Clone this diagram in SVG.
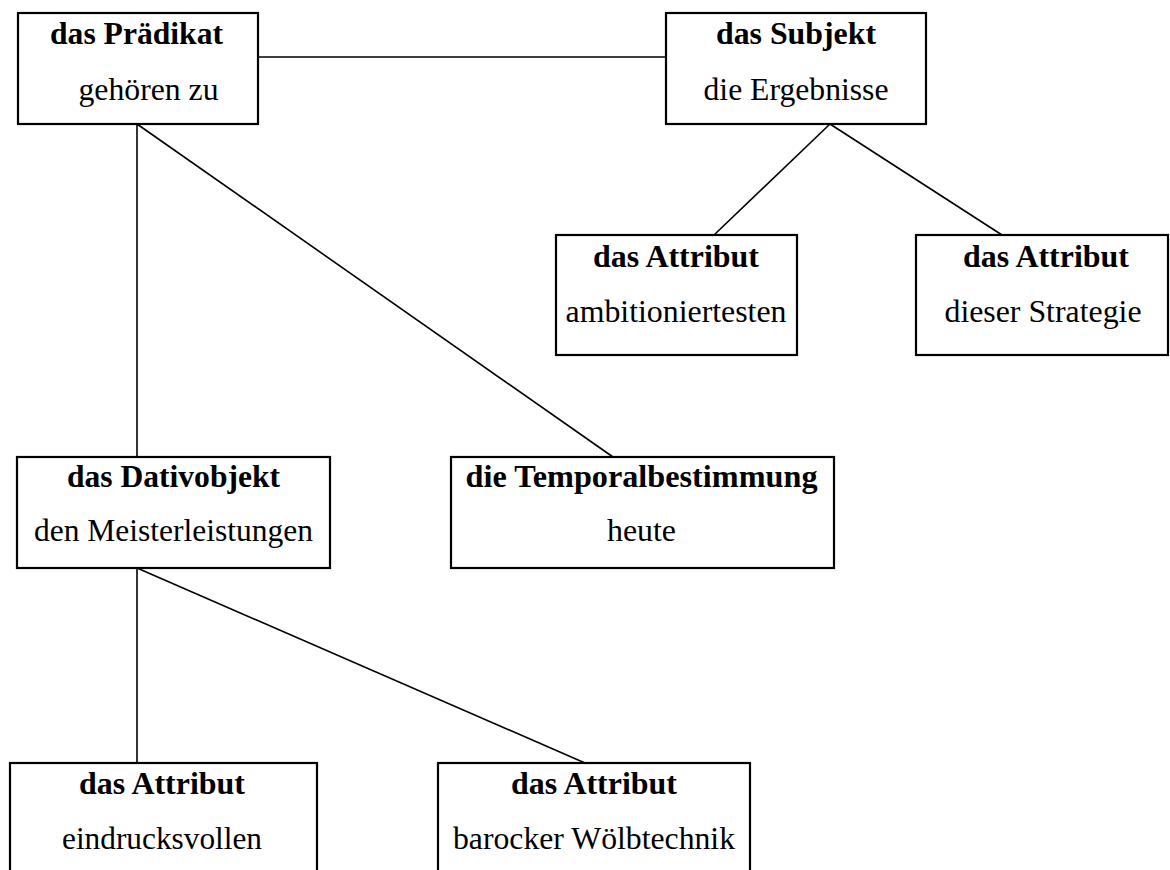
<svg xmlns="http://www.w3.org/2000/svg" width="1170" height="870" viewBox="0 0 1170 870">
<style>
.box{fill:#fff;stroke:#000;stroke-width:2.2}
.ln{stroke:#000;stroke-width:1.6;fill:none}
text{font-family:"Liberation Serif","Times New Roman",serif;font-size:32px;fill:#000;text-anchor:middle}
.b{font-weight:bold}
</style>
<rect width="1170" height="870" fill="#fff"/>
<g id="connectors">
<line class="ln" x1="258" y1="57" x2="666" y2="57"/>
<line class="ln" x1="830" y1="124" x2="714" y2="235"/>
<line class="ln" x1="830" y1="124" x2="1002" y2="235"/>
<line class="ln" x1="137" y1="124" x2="137" y2="457"/>
<line class="ln" x1="137" y1="124" x2="613" y2="457"/>
<line class="ln" x1="137" y1="568" x2="137" y2="763"/>
<line class="ln" x1="137" y1="568" x2="585" y2="763"/>
</g>
<g id="praedikat">
<rect class="box" x="18" y="13" width="240" height="111"/>
<text class="b" x="136.5" y="44" textLength="173" lengthAdjust="spacingAndGlyphs">das Prädikat</text>
<text x="148.5" y="100" textLength="140" lengthAdjust="spacingAndGlyphs">gehören zu</text>
</g>
<g id="subjekt">
<rect class="box" x="666" y="13" width="260" height="111"/>
<text class="b" x="796" y="44" textLength="160" lengthAdjust="spacingAndGlyphs">das Subjekt</text>
<text x="796" y="100" textLength="185" lengthAdjust="spacingAndGlyphs">die Ergebnisse</text>
</g>
<g id="attribut1">
<rect class="box" x="556" y="235" width="241" height="120"/>
<text class="b" x="676" y="267" textLength="166" lengthAdjust="spacingAndGlyphs">das Attribut</text>
<text x="676" y="322" textLength="221" lengthAdjust="spacingAndGlyphs">ambitioniertesten</text>
</g>
<g id="attribut2">
<rect class="box" x="916" y="235" width="252" height="120"/>
<text class="b" x="1046" y="267" textLength="166" lengthAdjust="spacingAndGlyphs">das Attribut</text>
<text x="1043" y="322" textLength="197" lengthAdjust="spacingAndGlyphs">dieser Strategie</text>
</g>
<g id="dativobjekt">
<rect class="box" x="17" y="457" width="313" height="111"/>
<text class="b" x="173.5" y="487" textLength="213" lengthAdjust="spacingAndGlyphs">das Dativobjekt</text>
<text x="173.5" y="541" textLength="279" lengthAdjust="spacingAndGlyphs">den Meisterleistungen</text>
</g>
<g id="temporal">
<rect class="box" x="451" y="457" width="383" height="111"/>
<text class="b" x="641.5" y="487" textLength="352" lengthAdjust="spacingAndGlyphs">die Temporalbestimmung</text>
<text x="641.5" y="541" textLength="69" lengthAdjust="spacingAndGlyphs">heute</text>
</g>
<g id="attribut3">
<rect class="box" x="10" y="763" width="307" height="120"/>
<text class="b" x="162" y="794" textLength="166" lengthAdjust="spacingAndGlyphs">das Attribut</text>
<text x="162" y="849" textLength="200" lengthAdjust="spacingAndGlyphs">eindrucksvollen</text>
</g>
<g id="attribut4">
<rect class="box" x="438" y="763" width="312" height="120"/>
<text class="b" x="594" y="794" textLength="166" lengthAdjust="spacingAndGlyphs">das Attribut</text>
<text x="594" y="849" textLength="282" lengthAdjust="spacingAndGlyphs">barocker Wölbtechnik</text>
</g>
</svg>
